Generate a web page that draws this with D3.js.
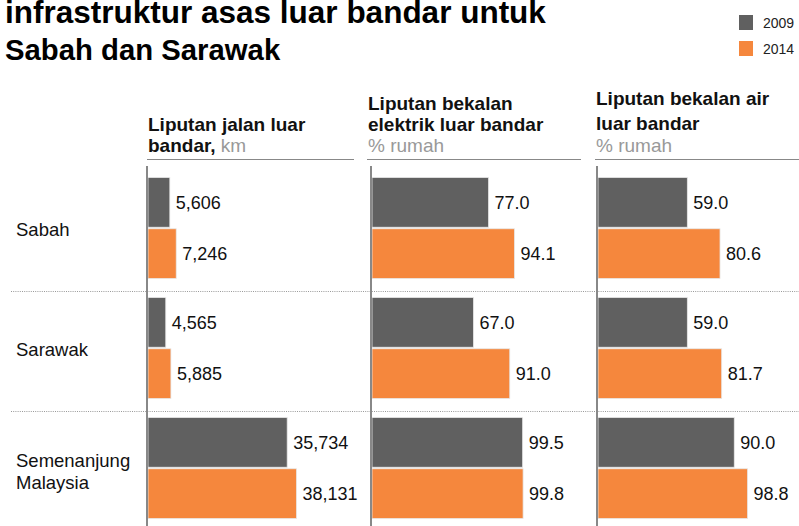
<!DOCTYPE html>
<html>
<head>
<meta charset="utf-8">
<script src="https://cdn.jsdelivr.net/npm/d3@7"></script>
<style>
  body { margin: 0; background: #fff; }
  svg { font-family: "Liberation Sans", Arial, Helvetica, sans-serif; }
</style>
</head>
<body>
<div id="chart"></div>
<script>
// data
const regions = ["Sabah", "Sarawak", "Semenanjung Malaysia"];
const regionLines = [["Sabah"], ["Sarawak"], ["Semenanjung", "Malaysia"]];
const years = ["2009", "2014"];
const roads2009 = [5606, 4565, 35734];
const roads2014 = [7246, 5885, 38131];
const elec2009 = [77.0, 67.0, 99.5];
const elec2014 = [94.1, 91.0, 99.8];
const water2009 = [59.0, 59.0, 90.0];
const water2014 = [80.6, 81.7, 98.8];

const width = 799, height = 526;
const color = d3.scaleOrdinal().domain(years).range(["#606060", "#f5873d"]);

const svg = d3.select("#chart").append("svg")
  .attr("width", width)
  .attr("height", height);

// title
svg.append("text")
  .attr("x", 5)
  .attr("y", 23)
  .style("font-size", "31.5px")
  .style("font-weight", "bold")
  .style("fill", "#000")
  .text("infrastruktur asas luar bandar untuk");
svg.append("text")
  .attr("x", 5)
  .attr("y", 60)
  .style("font-size", "29.3px")
  .style("font-weight", "bold")
  .style("fill", "#000")
  .text("Sabah dan Sarawak");

// legend
const legend = svg.append("g").attr("transform", "translate(739,15)");
legend.selectAll("rect")
  .data(years)
  .join("rect")
    .attr("x", 0)
    .attr("y", (d, i) => i * 26)
    .attr("width", 14)
    .attr("height", 15)
    .style("fill", d => color(d));
legend.selectAll("text")
  .data(years)
  .join("text")
    .attr("x", 24)
    .attr("y", (d, i) => i * 26 + 12.5)
    .style("font-size", "14px")
    .style("fill", "#222")
    .text(d => d);

// row layout
const y = d3.scaleBand()
  .domain(regions)
  .range([172, 532]);
const yInner = d3.scaleBand()
  .domain(years)
  .range([5.5, 106.5])
  .paddingInner(0.03);

// row labels
svg.selectAll(".rowlabel")
  .data(regions)
  .join("text")
    .attr("class", "rowlabel")
    .style("font-size", "18.5px")
    .style("fill", "#111")
    .each(function(d, i) {
      const lines = regionLines[i];
      const mid = y(d) + 58 + (lines.length - 1) * 2;
      lines.forEach((t, j) => {
        d3.select(this).append("tspan")
          .attr("x", 16)
          .attr("y", mid + (j - (lines.length - 1) / 2) * 22)
          .attr("dy", "0.35em")
          .text(t);
      });
    });

// dotted separators
svg.selectAll(".sep")
  .data(regions.slice(1))
  .join("line")
    .attr("class", "sep")
    .attr("x1", 11)
    .attr("x2", width)
    .attr("y1", d => y(d) - 0.5)
    .attr("y2", d => y(d) - 0.5)
    .style("stroke", "#999")
    .style("stroke-width", 1)
    .style("stroke-dasharray", "1,1.2");

// panels
const panels = [
  { left: 148, ruleX: [147, 354], max: 40000, span: 155.8, fmt: d3.format(","),
    title: [["Liputan jalan luar", 131]], last: ["bandar,", " km"], v09: roads2009, v14: roads2014 },
  { left: 372, ruleX: [367, 581], max: 100, span: 151.4, fmt: d3.format(".1f"),
    title: [["Liputan bekalan", 110], ["elektrik luar bandar", 131]], last: ["", "% rumah"], v09: elec2009, v14: elec2014 },
  { left: 598, ruleX: [595, 799], max: 100, span: 151.4, fmt: d3.format(".1f"),
    title: [["Liputan bekalan air", 105], ["luar bandar", 130]], last: ["", "% rumah"], v09: water2009, v14: water2014 }
];

panels.forEach(p => {
  const x = d3.scaleLinear().domain([0, p.max]).range([p.left, p.left + p.span]);
  const g = svg.append("g");

  // header
  p.title.forEach(t => {
    g.append("text")
      .attr("x", p.ruleX[0] + 1)
      .attr("y", t[1])
      .style("font-size", "19px")
      .style("font-weight", "bold")
      .style("fill", "#111")
      .text(t[0]);
  });
  const lastLine = g.append("text")
    .attr("x", p.ruleX[0] + 1)
    .attr("y", 152)
    .style("font-size", "19px");
  if (p.last[0]) {
    lastLine.append("tspan").style("font-weight", "bold").style("fill", "#111").text(p.last[0]);
  }
  lastLine.append("tspan").style("fill", "#999").text(p.last[1]);

  g.append("line")
    .attr("x1", p.ruleX[0]).attr("x2", p.ruleX[1])
    .attr("y1", 159.5).attr("y2", 159.5)
    .style("stroke", "#888")
    .style("stroke-width", 1);

  // bars
  const rows = regions.map((r, i) => [
    { region: r, year: "2009", value: p.v09[i] },
    { region: r, year: "2014", value: p.v14[i] }
  ]).flat();

  g.selectAll(".bar")
    .data(rows)
    .join("rect")
      .attr("class", "bar")
      .attr("x", x(0))
      .attr("y", d => y(d.region) + yInner(d.year))
      .attr("width", d => x(d.value) - x(0))
      .attr("height", yInner.bandwidth())
      .style("fill", d => color(d.year))
      .style("stroke", "#e8e8e8")
      .style("stroke-width", 0.8);

  g.selectAll(".val")
    .data(rows)
    .join("text")
      .attr("class", "val")
      .attr("x", d => x(d.value) + 6)
      .attr("y", d => y(d.region) + yInner(d.year) + yInner.bandwidth() / 2)
      .attr("dy", "0.35em")
      .style("font-size", "18px")
      .style("fill", "#111")
      .text(d => p.fmt(d.value));

  // axis line
  g.append("line")
    .attr("x1", x(0) - 1).attr("x2", x(0) - 1)
    .attr("y1", 166).attr("y2", height)
    .style("stroke", "#888")
    .style("stroke-width", 2);
});
</script>
</body>
</html>
